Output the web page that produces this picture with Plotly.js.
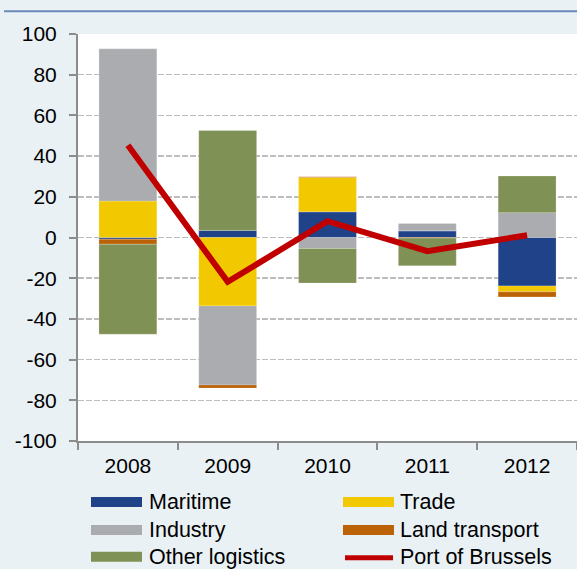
<!DOCTYPE html>
<html>
<head>
<meta charset="utf-8">
<script src="https://cdn.plot.ly/plotly-3.0.1.min.js"></script>
<style>html,body{margin:0;padding:0;background:#e9f1f5;}#chart{width:577px;height:569px;}</style>
</head>
<body>
<div id="chart"></div>
<script>
var years = ['2008', '2009', '2010', '2011', '2012'];
var maritime = [-0.8, 3.5, 12.6, 3.3, -23.8];
var trade = [17.9, -33.6, 16.9, 0, -2.9];
var industry = [74.8, -38.9, -5.4, 3.6, 12.2];
var landTransport = [-2.5, -1.5, 0.4, -0.3, -2.5];
var otherLogistics = [-44.2, 49.1, -17, -13.6, 18];
var portOfBrussels = [45.3, -21.8, 8, -6.7, 1.1];
var yTicks = [-100, -80, -60, -40, -20, 0, 20, 40, 60, 80, 100];

var seriesNames = ['Maritime', 'Trade', 'Industry', 'Land transport', 'Other logistics'];
var seriesData = [maritime, trade, industry, landTransport, otherLogistics];
var seriesColors = ['#1f4288', '#f2c900', '#abacb0', '#ba6205', '#7f9155'];
var lineColor = '#c00000';

var W = 577, H = 569, ML = 78, MR = 0, MT = 33.5, MB = 128;
var PW = W - ML - MR, PH = H - MT - MB;
function px(x) { return (x - ML) / PW; }
function py(y) { return (H - MB - y) / PH; }

var traces = seriesNames.map(function (n, i) {
  return {
    type: 'bar', name: n, x: years, y: seriesData[i],
    marker: {color: seriesColors[i], line: {color: 'rgba(255,255,255,0.35)', width: 0.6}},
    showlegend: false, hoverinfo: 'x+y+name'
  };
});
traces.push({
  type: 'scatter', mode: 'lines', name: 'Port of Brussels', x: years, y: portOfBrussels,
  line: {color: lineColor, width: 6}, showlegend: false
});

var fontFam = '"Liberation Sans", Arial, sans-serif';
var FS = 21, LFS = 21.5;
var shapes = [
  {type: 'line', xref: 'paper', yref: 'paper', x0: px(4), x1: px(577), y0: py(10.7), y1: py(10.7),
   line: {color: '#6a89b8', width: 2}}
];
var annotations = [];
var legendItems = [
  {name: 'Maritime', color: seriesColors[0], col: 0, row: 0, kind: 'bar'},
  {name: 'Trade', color: seriesColors[1], col: 1, row: 0, kind: 'bar'},
  {name: 'Industry', color: seriesColors[2], col: 0, row: 1, kind: 'bar'},
  {name: 'Land transport', color: seriesColors[3], col: 1, row: 1, kind: 'bar'},
  {name: 'Other logistics', color: seriesColors[4], col: 0, row: 2, kind: 'bar'},
  {name: 'Port of Brussels', color: lineColor, col: 1, row: 2, kind: 'line'}
];
var colX = [[91, 142, 147], [343, 394, 398]];
var rowY = [502, 530, 557];
legendItems.forEach(function (it) {
  var c = colX[it.col], yc = rowY[it.row];
  if (it.kind === 'bar') {
    shapes.push({type: 'rect', xref: 'paper', yref: 'paper', x0: px(c[0]), x1: px(c[1]),
      y0: py(yc - 5), y1: py(yc + 5), fillcolor: it.color, line: {width: 0}});
  } else {
    shapes.push({type: 'line', xref: 'paper', yref: 'paper', x0: px(c[0] + 2), x1: px(c[1] - 1),
      y0: py(yc + 1), y1: py(yc + 1), line: {color: it.color, width: 5}});
  }
  annotations.push({xref: 'paper', yref: 'paper', x: px(c[2]), y: py(yc), xanchor: 'left', yanchor: 'middle',
    text: it.name, showarrow: false, font: {family: fontFam, size: LFS, color: '#000'}});
});

var layout = {
  width: W, height: H,
  margin: {l: ML, r: MR, t: MT, b: MB, pad: 0},
  paper_bgcolor: '#e9f1f5', plot_bgcolor: '#ffffff',
  barmode: 'relative', bargap: 0.42,
  font: {family: fontFam, size: FS, color: '#000'},
  showlegend: false,
  xaxis: {
    type: 'category', showgrid: false, zeroline: false,
    showline: true, linecolor: '#8c8c8c', linewidth: 2,
    ticks: 'outside', tickson: 'boundaries', ticklen: 7, tickwidth: 2, tickcolor: '#8c8c8c',
    ticklabelstandoff: 5,
    tickfont: {family: fontFam, size: FS, color: '#000'}
  },
  yaxis: {
    range: [-100, 100], tickvals: yTicks, ticktext: yTicks.map(String),
    showgrid: true, gridcolor: '#bdbdbd', gridwidth: 1.5, griddash: '6px,2px',
    zeroline: false, showline: true, linecolor: '#8c8c8c', linewidth: 2,
    ticks: 'outside', ticklen: 7, tickwidth: 2, tickcolor: '#8c8c8c',
    ticklabelstandoff: 8,
    tickfont: {family: fontFam, size: FS, color: '#000'}
  },
  shapes: shapes,
  annotations: annotations
};

Plotly.newPlot('chart', traces, layout, {displayModeBar: false, staticPlot: true});
</script>
</body>
</html>
